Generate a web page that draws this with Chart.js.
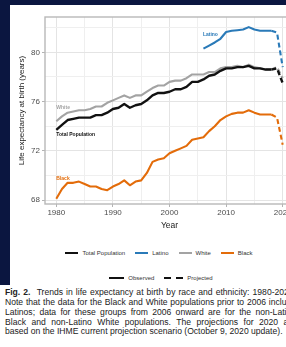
<!DOCTYPE html>
<html><head><meta charset="utf-8">
<script src="https://cdn.jsdelivr.net/npm/chart.js@4"></script>
<style>
html,body{margin:0;padding:0;background:#fff;width:286px;height:347px;overflow:hidden;font-family:"Liberation Sans",Arial,sans-serif;}
#wrap{position:absolute;left:0;top:0;width:286px;height:347px;overflow:hidden;background:#fff;}
.navy{position:absolute;background:#0b1640;}
#c{position:absolute;left:0;top:0;}
.leg{position:absolute;display:flex;align-items:center;justify-content:center;font-size:6px;color:#333;white-space:nowrap;}
.item{display:flex;align-items:center;margin:0 5px;}
.key{display:inline-block;height:2px;margin-right:4px;}
.capline{position:absolute;left:5px;color:#222;white-space:nowrap;}
.just{text-align:justify;text-align-last:justify;white-space:normal;}
</style></head>
<body><div id="wrap">
<div class="navy" style="left:0;top:0;width:286px;height:5px"></div>
<div class="navy" style="left:0;top:0;width:10px;height:285px"></div>
<canvas id="c" width="300" height="234"></canvas>
<div class="leg" id="leg1" style="left:0;top:248px;width:318px;height:10px"></div>
<div class="leg" id="leg2" style="left:0;top:273px;width:322px;height:10px"></div>
<div id="caption"></div>
</div>
<script>
// ---------- DATA ----------
const years = [1980,1981,1982,1983,1984,1985,1986,1987,1988,1989,1990,1991,1992,1993,1994,1995,1996,1997,1998,1999,2000,2001,2002,2003,2004,2005,2006,2007,2008,2009,2010,2011,2012,2013,2014,2015,2016,2017,2018];
const totalObs = [73.7,74.1,74.5,74.6,74.7,74.7,74.7,74.9,74.9,75.1,75.4,75.5,75.8,75.5,75.7,75.8,76.1,76.5,76.7,76.7,76.8,77.0,77.0,77.2,77.6,77.6,77.8,78.1,78.2,78.5,78.7,78.7,78.8,78.8,78.9,78.7,78.7,78.6,78.6];
const whiteObs = [74.4,74.8,75.1,75.2,75.3,75.3,75.4,75.6,75.6,75.9,76.1,76.3,76.5,76.3,76.5,76.5,76.8,77.1,77.3,77.3,77.6,77.7,77.7,77.9,78.2,78.2,78.2,78.4,78.4,78.7,78.8,78.8,78.9,78.8,79.0,78.8,78.7,78.6,78.6];
const blackObs = [68.1,68.9,69.4,69.4,69.5,69.3,69.1,69.1,68.9,68.8,69.1,69.3,69.6,69.2,69.5,69.6,70.2,71.1,71.3,71.4,71.8,72.0,72.2,72.4,72.9,73.0,73.1,73.6,74.0,74.5,74.8,75.0,75.1,75.1,75.3,75.1,74.95,74.95,74.95];
const latinoYears = [2006,2007,2008,2009,2010,2011,2012,2013,2014,2015,2016,2017,2018];
const latinoObs = [80.3,80.55,80.8,81.1,81.65,81.75,81.8,81.85,82.05,81.85,81.75,81.75,81.75];
const projYears = [2018,2019,2020];
const totalProj = [78.6,78.7,77.5];
const whiteProj = [78.6,78.8,77.9];
const latinoProj = [81.75,81.6,78.8];
const blackProj = [74.95,74.7,72.5];
const seriesNames = ['Total Population','Latino','White','Black'];
const lineTypes = ['Observed','Projected'];
const yTicks = [68,70,72,74,76,78,80,82];
const yLabelled = [68,72,76,80];
const xTicks = [1980,1985,1990,1995,2000,2005,2010,2015,2020];
const xLabelled = [1980,1990,2000,2010,2020];
const captionLines = [
 'Trends in life expectancy at birth by race and ethnicity: 1980-2020.',
 'Note that the data for the Black and White populations prior to 2006 include',
 'Latinos; data for these groups from 2006 onward are for the non-Latino',
 'Black and non-Latino White populations. The projections for 2020 are',
 'based on the IHME current projection scenario (October 9, 2020 update).'
];

// ---------- STYLE ----------
const colors = {'Total Population':'#111111','Latino':'#2a7ab8','White':'#a3a3a3','Black':'#e36c0a'};
const pts = (xs, ys) => xs.map((x,i)=>({x:x,y:ys[i]}));
function ds(name, xs, ys, proj){
  return {label:name+(proj?' proj':''), data:pts(xs,ys), borderColor:colors[name],
    borderWidth: name==='Total Population'?2.4:2.1, borderDash: proj?[5,3]:[],
    pointRadius:0, tension:0, fill:false, borderJoinStyle:'round'};
}
// in-plot labels anchored in data space
const inLabels = [
  {text:'White', name:'White', x:1980, y:75.5},
  {text:'Total Population', name:'Total Population', x:1980, y:73.3},
  {text:'Black', name:'Black', x:1980, y:69.75},
  {text:'Latino', name:'Latino', x:2005.9, y:81.47}
];
const labelPlugin = {
  id:'inlabels',
  afterDatasetsDraw(chart){
    const {ctx, scales:{x,y}} = chart;
    ctx.save();
    ctx.font = 'bold 5px "Liberation Sans", Arial, sans-serif';
    ctx.textBaseline = 'middle'; ctx.textAlign = 'left';
    inLabels.forEach(l=>{ ctx.fillStyle = colors[l.name]; ctx.fillText(l.text, x.getPixelForValue(l.x), y.getPixelForValue(l.y)); });
    ctx.restore();
  }
};
const borderPlugin = {
  id:'panelBorder',
  afterDraw(chart){
    const {ctx, chartArea:a} = chart;
    ctx.save(); ctx.strokeStyle = '#b8b8b8'; ctx.lineWidth = 1.4;
    ctx.strokeRect(a.left, a.top, a.right-a.left, a.bottom-a.top);
    ctx.restore();
  }
};

new Chart(document.getElementById('c'), {
  type:'line',
  data:{datasets:[
    ds('Total Population', years, totalObs, false),
    ds('White', years, whiteObs, false),
    ds('Latino', latinoYears, latinoObs, false),
    ds('Black', years, blackObs, false),
    ds('Total Population', projYears, totalProj, true),
    ds('White', projYears, whiteProj, true),
    ds('Latino', projYears, latinoProj, true),
    ds('Black', projYears, blackProj, true)
  ]},
  options:{
    responsive:false, animation:false, devicePixelRatio:1,
    layout:{padding:{top:17,right:6,left:0,bottom:0}},
    plugins:{legend:{display:false}, tooltip:{enabled:false}},
    scales:{
      x:{type:'linear', min:1978, max:2022,
        afterBuildTicks(s){ s.ticks = xTicks.map(v=>({value:v})); },
        afterFit(s){ s.height = 30; },
        ticks:{autoSkip:false, maxRotation:0, padding:1, color:'#4d4d4d', font:{size:8, family:'"Liberation Sans", Arial, sans-serif'},
          callback:(v)=> xLabelled.includes(v)? String(v):''},
        grid:{color:(c)=> (c.tick && xLabelled.includes(c.tick.value))?'#e4e4e4':'#efefef', lineWidth:1,
          tickLength:3, tickColor:(c)=> (c.tick && xLabelled.includes(c.tick.value))?'#b3b3b3':'rgba(0,0,0,0)'},
        border:{display:false},
        title:{display:true, text:'Year', color:'#1a1a1a', font:{size:8.5, family:'"Liberation Sans", Arial, sans-serif'}, padding:{top:0,bottom:3}}
      },
      y:{type:'linear', min:67.68, max:82.87,
        afterBuildTicks(s){ s.ticks = yTicks.map(v=>({value:v})); },
        afterFit(s){ s.width = 45; },
        ticks:{autoSkip:false, padding:2, color:'#4d4d4d', font:{size:8, family:'"Liberation Sans", Arial, sans-serif'},
          callback:(v)=> yLabelled.includes(v)? String(v):''},
        grid:{color:(c)=> (c.tick && yLabelled.includes(c.tick.value))?'#e4e4e4':'#efefef', lineWidth:1,
          tickLength:3, tickColor:(c)=> (c.tick && yLabelled.includes(c.tick.value))?'#b3b3b3':'rgba(0,0,0,0)'},
        border:{display:false},
        title:{display:true, text:'Life expectancy at birth (years)', color:'#1a1a1a', font:{size:8, family:'"Liberation Sans", Arial, sans-serif'}, padding:{top:17,bottom:0}}
      }
    }
  },
  plugins:[labelPlugin, borderPlugin]
});

// ---------- LEGENDS ----------
const leg1 = document.getElementById('leg1');
seriesNames.forEach(n=>{
  const it = document.createElement('span'); it.className='item';
  const k = document.createElement('span'); k.className='key'; k.style.width='13px'; k.style.background=colors[n];
  it.appendChild(k); it.appendChild(document.createTextNode(n)); leg1.appendChild(it);
});
const leg2 = document.getElementById('leg2');
lineTypes.forEach((n,i)=>{
  const it = document.createElement('span'); it.className='item';
  if(i===0){
    const k = document.createElement('span'); k.className='key'; k.style.width='15px'; k.style.background='#111'; it.appendChild(k);
  } else {
    const k1 = document.createElement('span'); k1.className='key'; k1.style.width='7px'; k1.style.background='#111'; k1.style.marginRight='5px';
    const k2 = document.createElement('span'); k2.className='key'; k2.style.width='7px'; k2.style.background='#111';
    it.appendChild(k1); it.appendChild(k2);
  }
  it.appendChild(document.createTextNode(n)); leg2.appendChild(it);
});

// ---------- CAPTION ----------
const cap = document.getElementById('caption');
const probe = document.createElement('span');
probe.style.cssText='position:absolute;visibility:hidden;white-space:nowrap;font-size:10px;font-family:"Liberation Sans",Arial,sans-serif;';
probe.textContent = captionLines[4];
document.body.appendChild(probe);
const fs = 10*278/probe.getBoundingClientRect().width;
probe.remove();
const capTops = [287, 297, 307, 316.5, 326];
captionLines.forEach((t,i)=>{
  const d = document.createElement('div');
  d.className = 'capline' + (i<4?' just':'');
  d.style.top = capTops[i]+'px'; d.style.fontSize = fs+'px'; d.style.lineHeight='10px';
  if(i<4) d.style.width='291px';
  if(i===0){ const b=document.createElement('b'); b.textContent='Fig. 2.'; d.appendChild(b); d.appendChild(document.createTextNode('\u00a0\u00a0'+t)); }
  else d.textContent = t;
  cap.appendChild(d);
});
</script>
</body></html>
